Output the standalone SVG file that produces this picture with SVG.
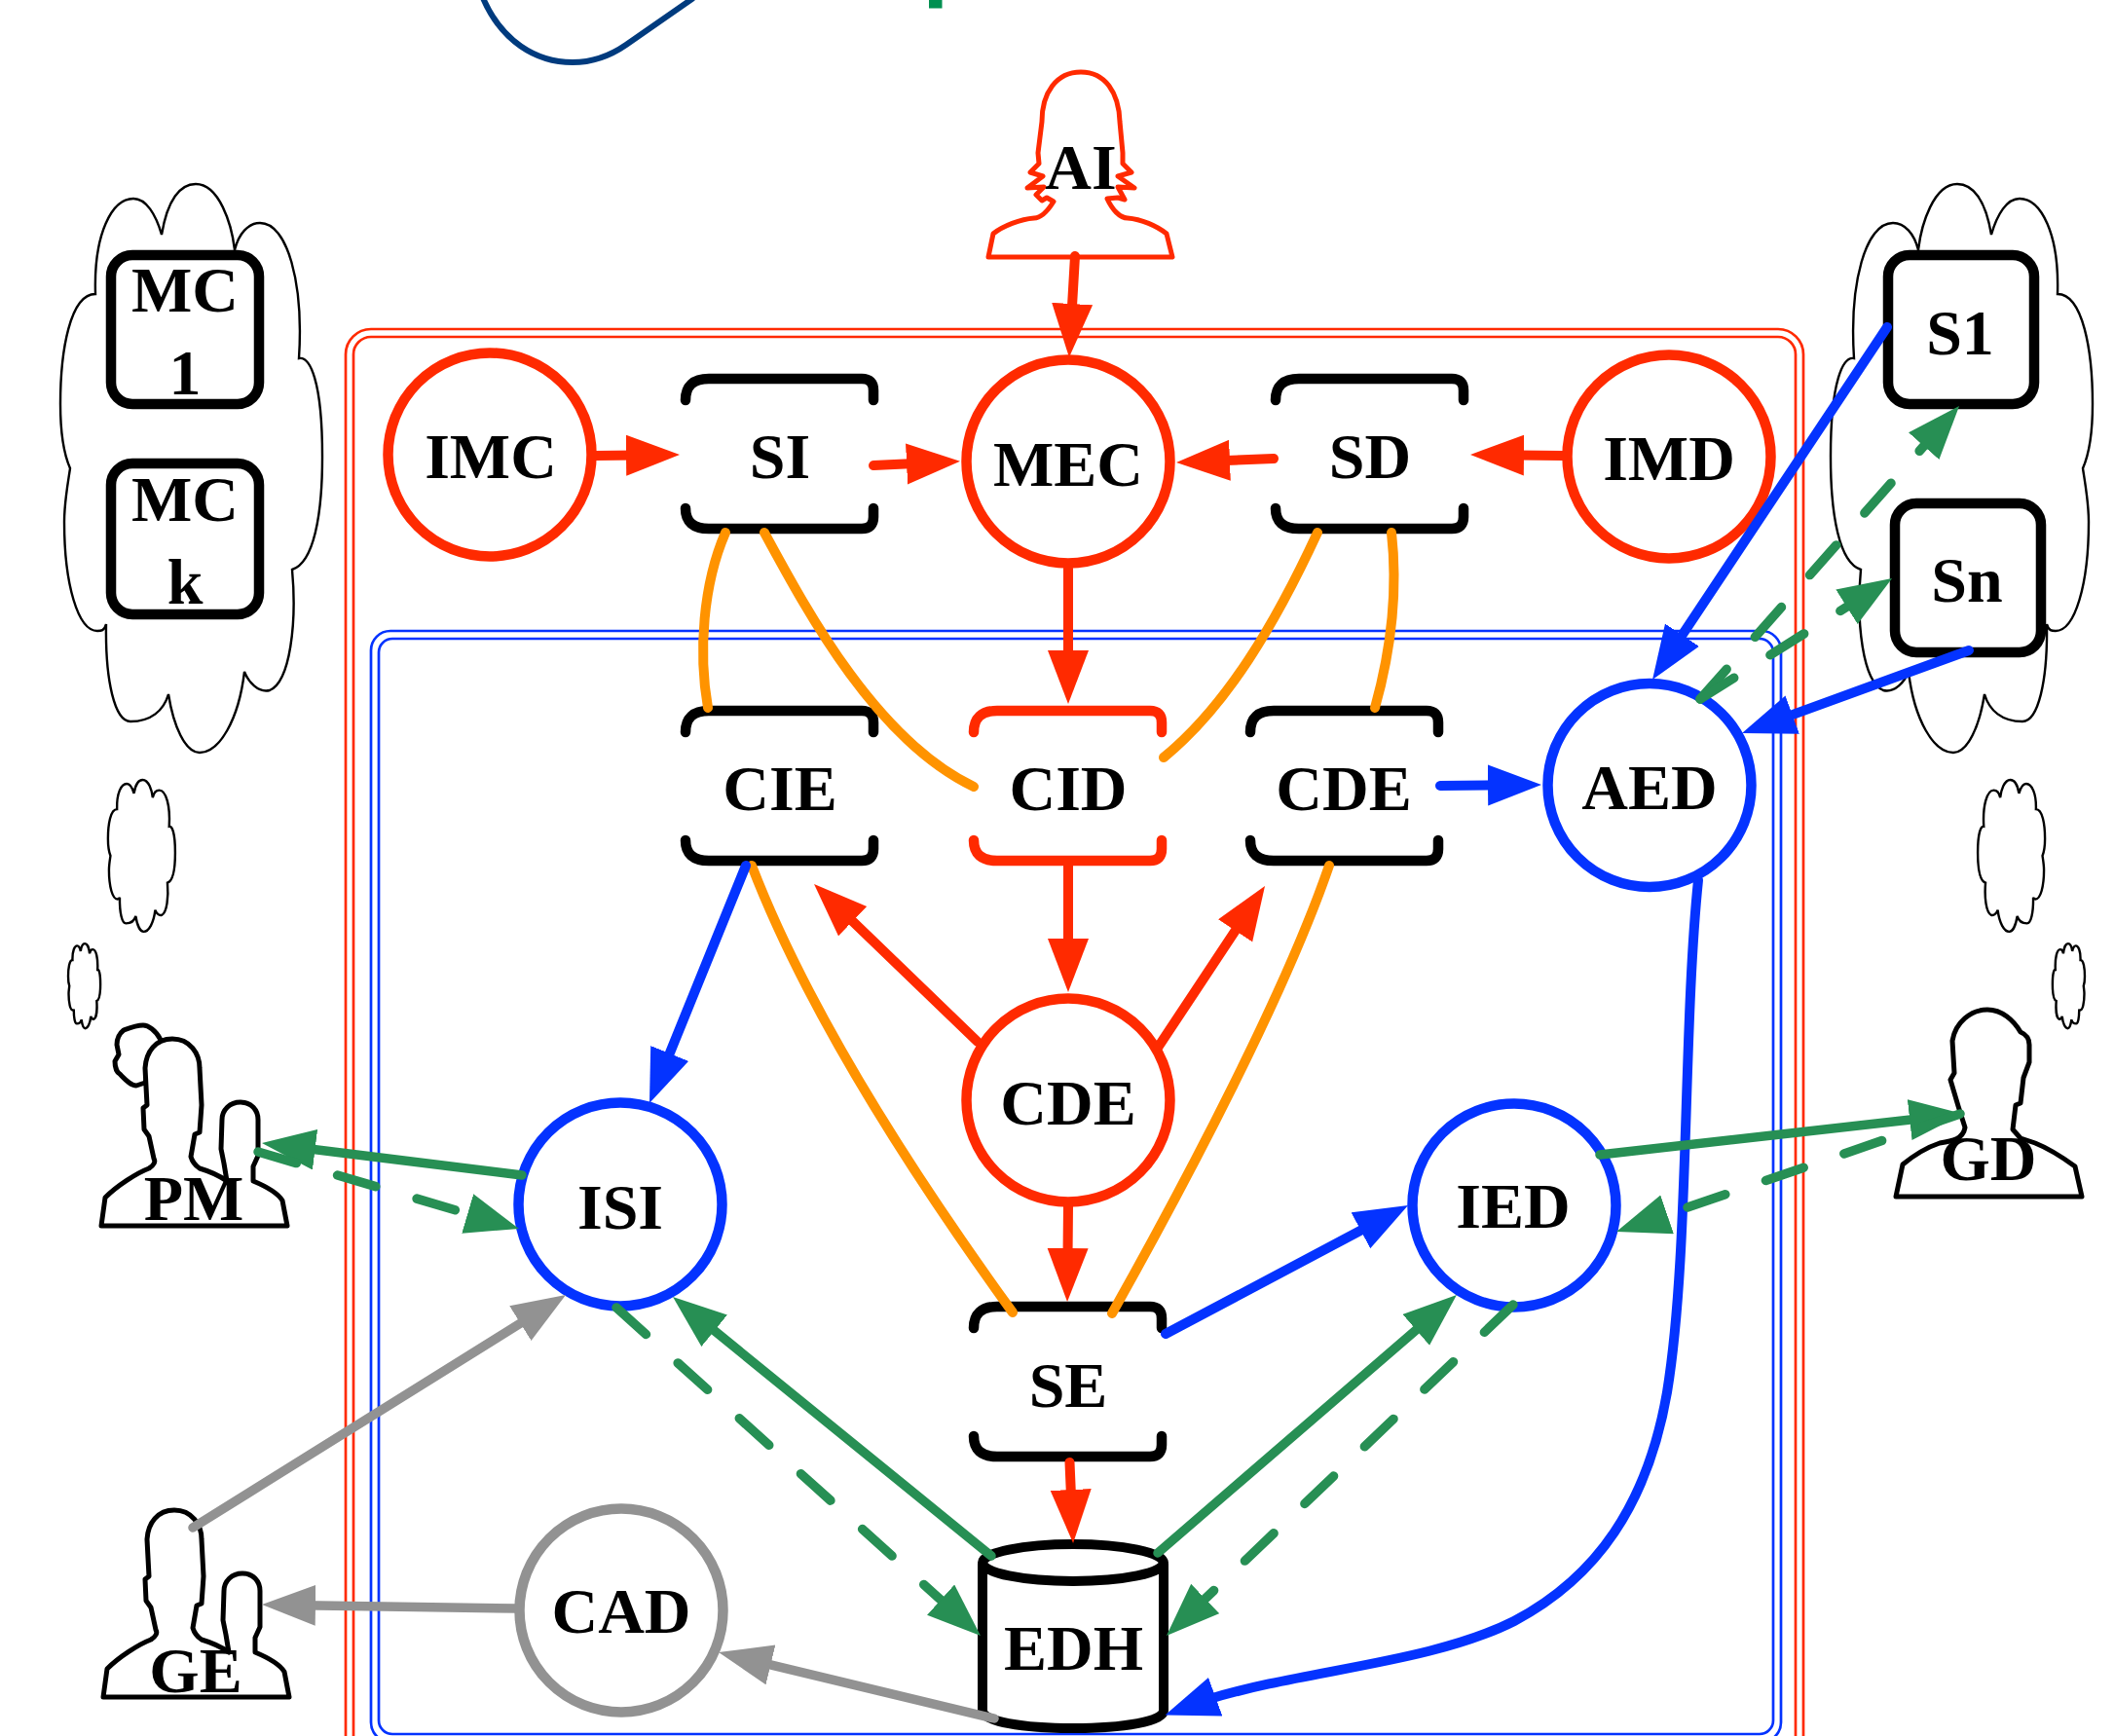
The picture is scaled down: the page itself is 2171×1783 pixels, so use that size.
<svg xmlns="http://www.w3.org/2000/svg" xmlns:xlink="http://www.w3.org/1999/xlink" width="2171" height="1783" viewBox="0 0 2171 1783">
<style>
text{font-family:"Liberation Serif","Times New Roman",serif;font-weight:bold;font-size:66px;text-anchor:middle;fill:#000}
.cl{fill:#fff;stroke:#000;stroke-width:2.4;vector-effect:non-scaling-stroke;stroke-linejoin:miter}
.ci{fill:#fff;stroke-width:10.5}
.br{fill:none;stroke:#000;stroke-width:10.5;stroke-linecap:round;stroke-linejoin:round}
.sq{fill:#fff;stroke:#000;stroke-width:10.5}
.pe{fill:#fff;stroke:#000;stroke-width:5;stroke-linejoin:round;stroke-linecap:round}
.c{fill:none;stroke-linecap:round}
.r{stroke:#ff2a00;stroke-width:10;marker-end:url(#mr)}
.b{stroke:#0433ff;stroke-width:10;marker-end:url(#mb)}
.g{stroke:#278f54;stroke-width:9.5;marker-end:url(#mg)}
.d{stroke-dasharray:41 44}
.y{stroke:#929292;stroke-width:9.5;marker-end:url(#my)}
.o{stroke:#ff9300;stroke-width:10}
.red{stroke:#ff2a00}.blu{stroke:#0433ff}.gry{stroke:#929292}
</style>
<defs>
<marker id="mr" markerUnits="userSpaceOnUse" markerWidth="60" markerHeight="44" refX="30" refY="21" orient="auto"><path d="M0 0L55 21L0 42Z" fill="#ff2a00"/></marker>
<marker id="mb" markerUnits="userSpaceOnUse" markerWidth="60" markerHeight="44" refX="30" refY="21" orient="auto"><path d="M0 0L55 21L0 42Z" fill="#0433ff"/></marker>
<marker id="mg" markerUnits="userSpaceOnUse" markerWidth="60" markerHeight="44" refX="30" refY="21" orient="auto"><path d="M0 0L55 21L0 42Z" fill="#278f54"/></marker>
<marker id="my" markerUnits="userSpaceOnUse" markerWidth="60" markerHeight="44" refX="30" refY="21" orient="auto"><path d="M0 0L55 21L0 42Z" fill="#929292"/></marker>
<path id="cloud" class="cl" d="M166 241C172 205 185 189 201 189C225 189 238 230 241 257C245 240 255 229 267 229C295 229 312 290 307 368C318 366 331 390 331 469C331 530 322 578 300 585C305 640 298 700 277 709C265 712 255 700 251 690C245 740 225 773 205 773C190 773 178 745 173 713C168 730 155 741 134 741C118 741 108 700 109 641C107 648 104 648 100 648C80 648 66 600 66 536C66 515 70 495 72 481C65 465 62 445 62 415C62 360 72 302 98 302C96 240 115 204 137 204C150 204 160 220 166 241Z"/>
<path id="bt" class="br" d="M704 411Q704 389 728 389H885Q897 389 897 401V411"/>
<path id="bb" class="br" d="M704 522Q704 543 728 543H885Q897 543 897 531V522"/>
<path id="man" class="pe" d="M104 1259L108 1230C120 1218 140 1205 153 1200C158 1197 160 1193 158 1190L153 1167L148 1160L147 1138L151 1135L149 1097C150 1080 160 1067 177 1067C195 1067 205 1082 205 1097L207 1135L205 1163L200 1165L196 1188C198 1195 202 1198 205 1200C215 1203 226 1208 233 1213L230 1195L227 1180L228 1150C228 1140 236 1132 247 1132C258 1132 265 1140 265 1150L265 1187L260 1198L260 1213C272 1218 285 1225 290 1233L295 1259Z"/>
</defs>
<path d="M496 -2C515 42 550 64 588 64C610 64 630 55 643 46L712 -2" fill="none" stroke="#003b7e" stroke-width="6"/>
<rect x="954" y="0" width="13.5" height="8.5" fill="#009051"/>
<g id="frames" fill="none" stroke-width="2.7">
<rect class="red" x="355" y="338" width="1497" height="1500" rx="26"/>
<rect class="red" x="363" y="346" width="1481" height="1500" rx="18"/>
<rect class="blu" x="381" y="648" width="1448" height="1141" rx="20"/>
<rect class="blu" x="389" y="656" width="1432" height="1125" rx="14"/>
</g>
<g id="clouds">
<use xlink:href="#cloud"/>
<use xlink:href="#cloud" transform="translate(2211 0) scale(-1 1)"/>
<use xlink:href="#cloud" transform="translate(95 750.5) scale(.2565 .267)"/>
<use xlink:href="#cloud" transform="translate(62.4 941) scale(.123 .149)"/>
<use xlink:href="#cloud" transform="translate(2116 750.5) scale(-.2565 .267)"/>
<use xlink:href="#cloud" transform="translate(2148.6 941) scale(-.123 .149)"/>
</g>
<g id="MC1"><rect class="sq" x="114" y="262" width="152" height="153" rx="22"/><text x="190" y="320">MC</text><text x="190" y="405">1</text></g>
<g id="MCk"><rect class="sq" x="114" y="476" width="152" height="155" rx="22"/><text x="190" y="535">MC</text><text x="190" y="620">k</text></g>
<g id="S1"><rect class="sq" x="1939" y="262" width="150" height="153" rx="22"/><text x="2013" y="364">S1</text></g>
<g id="Sn"><rect class="sq" x="1946" y="517" width="150" height="153" rx="22"/><text x="2020" y="618">Sn</text></g>
<g id="AI"><path d="M1015 264L1020 240C1030 232 1048 225 1062 224C1070 224 1077 215 1082 207L1075 203L1070 206L1064 200L1072 192L1055 193L1071 181L1058 177L1067 168L1066 157L1070 125C1070 95 1085 74 1110 74C1135 74 1149 95 1150 125L1153 157L1153 168L1162 177L1148 181L1165 193L1148 192L1155 205L1148 203L1137 204C1142 215 1150 224 1158 224C1172 225 1188 232 1198 240L1204 264Z" fill="#fff" stroke="#ff2a00" stroke-width="5" stroke-linejoin="round"/><text x="1110" y="194">AI</text></g>
<g id="IMC"><circle class="ci red" cx="503" cy="467" r="104.5"/><text x="504" y="491">IMC</text></g>
<g id="SI"><use xlink:href="#bt"/><use xlink:href="#bb"/><text x="801" y="491">SI</text></g>
<g id="MEC"><circle class="ci red" cx="1097" cy="474" r="104.5"/><text x="1097" y="499">MEC</text></g>
<g id="SD"><g transform="translate(606 0)"><use xlink:href="#bt"/><use xlink:href="#bb"/></g><text x="1407" y="491">SD</text></g>
<g id="IMD"><circle class="ci red" cx="1714" cy="469" r="104.5"/><text x="1714" y="493">IMD</text></g>
<g id="CIE"><g transform="translate(0 341)"><use xlink:href="#bt"/><use xlink:href="#bb"/></g><text x="801" y="832">CIE</text></g>
<g id="CID" transform="translate(296 341)"><path class="br" style="stroke:#ff2a00" d="M704 411Q704 389 728 389H885Q897 389 897 401V411"/><path class="br" style="stroke:#ff2a00" d="M704 522Q704 543 728 543H885Q897 543 897 531V522"/><text x="801" y="491">CID</text></g>
<g id="CDE1"><g transform="translate(580 341)"><use xlink:href="#bt"/><use xlink:href="#bb"/></g><text x="1380" y="832">CDE</text></g>
<g id="AED"><circle class="ci blu" cx="1694" cy="806.5" r="104.5"/><text x="1694" y="831">AED</text></g>
<g id="CDE2"><circle class="ci red" cx="1097" cy="1130" r="104.5"/><text x="1097" y="1155">CDE</text></g>
<g id="ISI"><circle class="ci blu" cx="637" cy="1237" r="104.5"/><text x="637" y="1262">ISI</text></g>
<g id="IED"><circle class="ci blu" cx="1555" cy="1238" r="104.5"/><text x="1554" y="1261">IED</text></g>
<g id="CAD"><circle class="ci gry" cx="638" cy="1654" r="104.5"/><text x="638" y="1677">CAD</text></g>
<g id="SE"><g transform="translate(296 953)"><use xlink:href="#bt"/><use xlink:href="#bb"/></g><text x="1097" y="1445">SE</text></g>
<g id="EDH"><path d="M1009 1606V1757C1009 1768 1050 1775 1102 1775C1154 1775 1195 1768 1195 1757V1606" fill="#fff" stroke="#000" stroke-width="10"/><ellipse cx="1102" cy="1605" rx="93" ry="19" fill="#fff" stroke="#000" stroke-width="10"/><text x="1102.5" y="1715">EDH</text></g>
<g id="PM"><path class="pe" d="M165 1068C160 1058 152 1053 147 1053C140 1053 135 1055 127 1058C122 1062 120 1068 120 1073L122 1083L118 1090C118 1098 121 1102 123 1103C128 1108 134 1115 140 1115L149 1112Z"/><use xlink:href="#man"/><text x="199" y="1253">PM</text></g>
<g id="GE"><use xlink:href="#man" transform="translate(2 484)"/><text x="201" y="1738">GE</text></g>
<g id="GD"><path class="pe" d="M1947 1229L1954 1196C1965 1187 1980 1178 1992 1174C2005 1172 2016 1170 2018 1158L2011 1136L2003 1109L2007 1102L2005 1069C2008 1050 2024 1037 2041 1037C2056 1037 2068 1048 2075 1060C2082 1063 2084 1068 2084 1073L2084 1091L2078 1107L2075 1133L2070 1135L2067 1160L2075 1169L2090 1174C2105 1180 2120 1190 2131 1198L2138 1229Z"/><text x="2042" y="1212">GD</text></g>
<g id="connectors">
<path class="c o" d="M745 547C722 600 717 670 727 727"/>
<path class="c o" d="M785 547C830 630 900 760 1000 808"/>
<path class="c o" d="M1353 547C1310 640 1260 725 1195 778"/>
<path class="c o" d="M1429 547C1436 610 1428 670 1412 727"/>
<path class="c o" d="M772 889C830 1040 940 1210 1040 1348"/>
<path class="c o" d="M1365 889C1320 1020 1220 1210 1142 1349"/>
<path class="c r" d="M612 468L673 467.3"/>
<path class="c r" d="M897 478L961 475"/>
<path class="c r" d="M1104 263L1099.4 342"/>
<path class="c r" d="M1308 471L1233 474"/>
<path class="c r" d="M1605 468L1535 467.3"/>
<path class="c r" d="M1097 584L1097 698"/>
<path class="c r" d="M1097 886L1097 994"/>
<path class="c r" d="M1004 1070L854 925.4"/>
<path class="c r" d="M1189 1076L1285.2 930.9"/>
<path class="c r" d="M1097 1239L1096.3 1312"/>
<path class="c r" d="M1098.5 1502L1101 1560"/>
<path class="c b" d="M1479 807L1558 806.2"/>
<path class="c b" d="M1938 336L1710.9 677.2"/>
<path class="c b" d="M2022 668L1812.5 744.4"/>
<path class="c b" d="M766 889L676.4 1109.8"/>
<path class="c b" d="M1197 1370L1423.9 1249.7"/>
<path class="c b" d="M1744 904C1728 1060 1735 1290 1712 1430C1692 1545 1640 1620 1555 1665C1470 1708 1340 1715 1242 1745L1220 1753"/>
<path class="c g" d="M536 1207L293.8 1177"/>
<path class="c g d" d="M265 1183L509 1255"/>
<path class="c g" d="M1018 1598L710.4 1347.8"/>
<path class="c g d" d="M633 1343L988.4 1663.2"/>
<path class="c g" d="M1189 1595L1477 1346.3"/>
<path class="c g d" d="M1554 1340L1216 1662.7"/>
<path class="c g" d="M1643 1186L1991 1146.8"/>
<path class="c g d" d="M2013 1144L1683.7 1257"/>
<path class="c g d" d="M1746 718L1995.5 435.7"/>
<path class="c g d" d="M1746 718L1921.9 607.3"/>
<path class="c y" d="M198 1569L559.8 1343.3"/>
<path class="c y" d="M531 1652L294 1648.4"/>
<path class="c y" d="M1021 1765L762.3 1702.9"/>
</g>
</svg>
